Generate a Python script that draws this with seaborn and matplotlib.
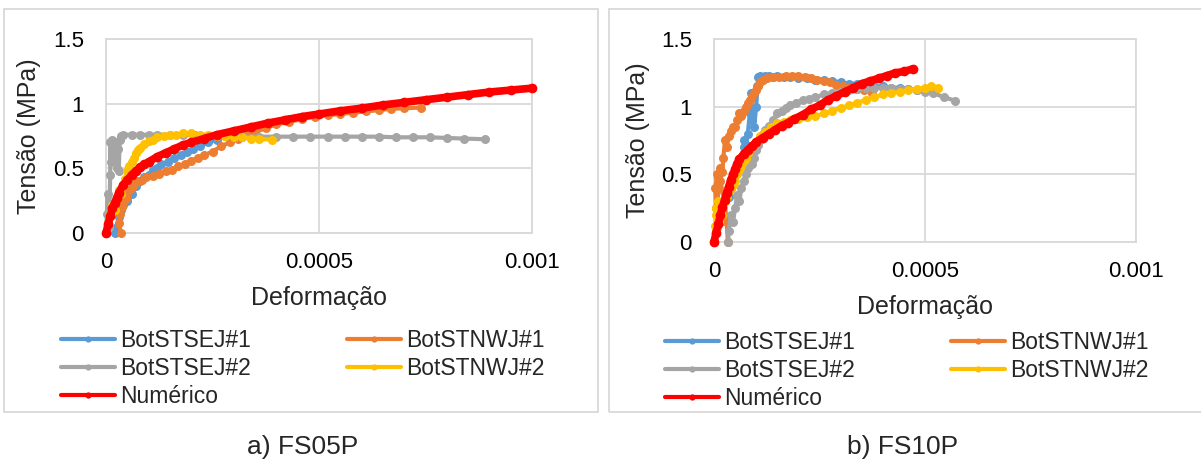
import numpy as np
import pandas as pd
import matplotlib
matplotlib.use("Agg")
import matplotlib.pyplot as plt
from matplotlib.lines import Line2D
from matplotlib.patches import Rectangle
import seaborn as sns

# ---- data (strain in micro-strain, stress in MPa) ----
# a) FS05P
a_sej1_x = [20, 25, 30, 35, 40, 45, 50, 55, 60, 70, 80, 90, 100, 110, 120, 130, 145, 160, 175, 190, 205, 220, 240,
            260, 280, 300, 325, 350, 375, 400, 430, 460, 490, 520, 550]
a_sej1_y = [0, 0.05, 0.12, 0.18, 0.22, 0.27, 0.25, 0.31, 0.3, 0.36, 0.4, 0.43, 0.45, 0.49, 0.5, 0.53, 0.55, 0.58,
            0.6, 0.63, 0.65, 0.67, 0.7, 0.72, 0.75, 0.77, 0.79, 0.81, 0.84, 0.86, 0.88, 0.9, 0.91, 0.92, 0.93]
a_nwj1_x = [35, 30, 32, 38, 40, 45, 50, 55, 60, 65, 75, 85, 95, 110, 125, 140, 155, 170, 185, 200, 215, 230, 250,
            270, 290, 310, 330, 350, 375, 400, 430, 460, 490, 520, 550, 580, 610, 640, 670, 700, 740]
a_nwj1_y = [0, 0.08, 0.15, 0.2, 0.24, 0.3, 0.27, 0.33, 0.35, 0.38, 0.4, 0.41, 0.43, 0.44, 0.46, 0.48, 0.49, 0.52,
            0.53, 0.56, 0.58, 0.6, 0.63, 0.67, 0.7, 0.73, 0.76, 0.78, 0.81, 0.84, 0.86, 0.88, 0.9, 0.91, 0.92, 0.93,
            0.94, 0.95, 0.96, 0.965, 0.97]
a_sej2_x = [0, 2, 4, 6, 8, 10, 10, 12, 14, 16, 20, 25, 28, 30, 32, 35, 40, 60, 80, 100, 120, 150, 180, 210, 240,
            280, 320, 360, 400, 440, 480, 520, 560, 600, 640, 680, 720, 760, 800, 840, 889]
a_sej2_y = [0, 0.15, 0.3, 0.05, 0.2, 0.45, 0.7, 0.55, 0.72, 0.6, 0.7, 0.5, 0.65, 0.48, 0.72, 0.75, 0.76, 0.76,
            0.76, 0.76, 0.76, 0.76, 0.76, 0.755, 0.75, 0.75, 0.745, 0.745, 0.745, 0.745, 0.745, 0.745, 0.745,
            0.745, 0.745, 0.74, 0.74, 0.74, 0.735, 0.73, 0.725]
a_nwj2_x = [0, 5, 10, 15, 20, 25, 30, 35, 40, 45, 50, 55, 60, 65, 70, 75, 80, 90, 100, 110, 120, 135, 150, 165,
            180, 200, 220, 240, 260, 280, 300, 320, 340, 360, 390]
a_nwj2_y = [0, 0.08, 0.15, 0.22, 0.18, 0.27, 0.33, 0.3, 0.36, 0.42, 0.48, 0.52, 0.55, 0.58, 0.62, 0.64, 0.66,
            0.69, 0.71, 0.72, 0.74, 0.75, 0.76, 0.76, 0.77, 0.77, 0.76, 0.76, 0.75, 0.75, 0.74, 0.74, 0.73, 0.73,
            0.72]
a_num_x = [0, 5, 10, 15, 20, 25, 30, 40, 50, 60, 70, 80, 90, 100, 120, 140, 160, 180, 200, 230, 260, 300, 340,
           380, 420, 460, 500, 550, 600, 650, 700, 750, 800, 850, 900, 950, 1000]
a_num_y = [0, 0.07, 0.13, 0.19, 0.23, 0.27, 0.31, 0.37, 0.41, 0.45, 0.48, 0.51, 0.53, 0.55, 0.59, 0.62, 0.65,
           0.68, 0.7, 0.73, 0.76, 0.79, 0.82, 0.85, 0.875, 0.9, 0.92, 0.945, 0.965, 0.99, 1.01, 1.03, 1.05, 1.07,
           1.09, 1.105, 1.12]

# b) FS10P
b_sej1_x = [0, 5, 10, 15, 20, 25, 30, 35, 40, 45, 50, 55, 60, 65, 70, 72, 75, 80, 85, 88, 90, 95, 100, 103, 105,
            110, 120, 130, 140, 150, 165, 180, 200, 220, 240, 260, 280, 300, 320, 340, 360, 380, 400, 420, 440,
            460, 480]
b_sej1_y = [0, 0.1, 0.2, 0.15, 0.25, 0.3, 0.35, 0.33, 0.4, 0.45, 0.5, 0.55, 0.6, 0.58, 0.7, 0.75, 0.72, 0.8, 0.95,
            1.1, 0.9, 0.85, 1.0, 1.15, 1.22, 1.23, 1.23, 1.23, 1.22, 1.23, 1.22, 1.22, 1.21, 1.21, 1.2, 1.2, 1.19,
            1.18, 1.17, 1.17, 1.16, 1.15, 1.15, 1.14, 1.14, 1.13, 1.12]
b_nwj1_x = [33, 30, 25, 15, 5, 3, 8, 10, 15, 20, 22, 26, 30, 35, 40, 45, 50, 55, 60, 65, 70, 75, 80, 85, 90, 95,
            100, 105, 110, 115, 125, 140, 155, 170, 185, 200, 215, 230, 245, 260, 275, 290, 305, 320, 340, 355, 374]
b_nwj1_y = [0, 0.15, 0.3, 0.45, 0.25, 0.4, 0.5, 0.48, 0.55, 0.52, 0.62, 0.75, 0.7, 0.78, 0.82, 0.85, 0.85, 0.9,
            0.95, 0.93, 0.97, 1.0, 1.03, 1.05, 1.08, 1.1, 1.12, 1.15, 1.18, 1.2, 1.21, 1.22, 1.22, 1.23, 1.23, 1.23,
            1.22, 1.21, 1.2, 1.19, 1.18, 1.16, 1.15, 1.14, 1.13, 1.12, 1.1]
b_sej2_x = [33, 35, 40, 45, 50, 55, 60, 65, 70, 75, 80, 85, 90, 95, 100, 105, 110, 115, 120, 130, 140, 150, 160,
            170, 180, 195, 210, 225, 240, 260, 280, 300, 320, 340, 360, 380, 400, 420, 440, 460, 480, 500, 520,
            545, 571]
b_sej2_y = [0, 0.08, 0.2, 0.15, 0.25, 0.35, 0.3, 0.4, 0.45, 0.5, 0.55, 0.6, 0.58, 0.62, 0.68, 0.72, 0.75, 0.8,
            0.83, 0.86, 0.9, 0.95, 0.97, 0.99, 1.01, 1.03, 1.05, 1.06, 1.07, 1.09, 1.1, 1.11, 1.12, 1.13, 1.14,
            1.14, 1.14, 1.14, 1.13, 1.13, 1.12, 1.11, 1.1, 1.07, 1.045]
b_nwj2_x = [0, 3, 5, 8, 10, 5, 12, 15, 20, 25, 30, 35, 40, 45, 50, 55, 60, 65, 70, 75, 80, 90, 100, 110, 120, 135,
            150, 165, 180, 200, 220, 240, 260, 280, 300, 320, 340, 360, 380, 400, 420, 440, 460, 480, 500, 515, 530]
b_nwj2_y = [0, 0.12, 0.25, 0.1, 0.3, 0.2, 0.15, 0.28, 0.2, 0.3, 0.33, 0.38, 0.4, 0.42, 0.45, 0.5, 0.53, 0.56,
            0.6, 0.62, 0.66, 0.7, 0.74, 0.78, 0.81, 0.85, 0.88, 0.89, 0.9, 0.91, 0.92, 0.93, 0.95, 0.97, 0.99, 1.01,
            1.03, 1.05, 1.07, 1.09, 1.1, 1.11, 1.12, 1.13, 1.14, 1.15, 1.14]
b_num_x = [0, 5, 10, 15, 20, 25, 30, 35, 40, 45, 50, 55, 60, 70, 80, 90, 100, 115, 130, 145, 160, 175, 190, 210,
           230, 250, 270, 290, 310, 330, 350, 370, 390, 410, 430, 450, 472]
b_num_y = [0, 0.07, 0.13, 0.2, 0.26, 0.31, 0.36, 0.41, 0.46, 0.5, 0.54, 0.58, 0.61, 0.65, 0.68, 0.71, 0.74, 0.77,
           0.8, 0.83, 0.86, 0.88, 0.91, 0.94, 0.98, 1.01, 1.05, 1.08, 1.11, 1.14, 1.17, 1.19, 1.21, 1.23, 1.25,
           1.26, 1.28]

names = ["BotSTSEJ#1", "BotSTNWJ#1", "BotSTSEJ#2", "BotSTNWJ#2", "Numérico"]
colors = ["#5B9BD5", "#ED7D31", "#A5A5A5", "#FFC000", "#FF0000"]

panels = [
    {"series": [(a_sej1_x, a_sej1_y), (a_nwj1_x, a_nwj1_y), (a_sej2_x, a_sej2_y), (a_nwj2_x, a_nwj2_y),
                (a_num_x, a_num_y)],
     "caption": "a) FS05P"},
    {"series": [(b_sej1_x, b_sej1_y), (b_nwj1_x, b_nwj1_y), (b_sej2_x, b_sej2_y), (b_nwj2_x, b_nwj2_y),
                (b_num_x, b_num_y)],
     "caption": "b) FS10P"},
]

sns.set_style("white")
plt.rcParams['font.family'] = ['Liberation Sans', 'DejaVu Sans']

W, H = 1201, 459
fig = plt.figure(figsize=(W / 100, H / 100), dpi=100)

# pixel layout (left, top, right, bottom) of plot areas
ax_px = [(106, 39, 532, 233), (714, 39, 1136, 242)]
box_px = [(4, 9, 598, 412), (609, 9, 1210, 412)]
leg_px = [(61, 329), (665, 331)]
cap_px = [(303, 447), (903, 447)]
xlab_y = [-0.335, -0.32]

grid_c = "#D9D9D9"

for i, p in enumerate(panels):
    l, t, r, b = ax_px[i]
    ax = fig.add_axes([l / W, 1 - b / H, (r - l) / W, (b - t) / H])

    for k, (xs, ys) in enumerate(p["series"]):
        df = pd.DataFrame({"x": np.array(xs) * 1e-6, "y": ys})
        red = k == 4
        sns.lineplot(data=df, x="x", y="y", sort=False, estimator=None, ax=ax, color=colors[k],
                     linewidth=5.5 if red else 3, marker="o", markersize=7 if red else 6.5,
                     markeredgewidth=0, legend=False, clip_on=False, zorder=3 + k)

    ax.set_xlim(0, 0.001)
    ax.set_ylim(0, 1.5)
    ax.set_xticks([0, 0.0005, 0.001])
    ax.set_xticklabels(["0", "0.0005", "0.001"])
    ax.set_yticks([0, 0.5, 1, 1.5])
    ax.set_yticklabels(["0", "0.5", "1", "1.5"])
    ax.tick_params(axis="x", length=0, pad=13.5, labelsize=16, labelcolor="#000000")
    ax.tick_params(axis="y", length=0, pad=16, labelsize=16, labelcolor="#000000")
    ax.grid(True, color=grid_c, linewidth=1.3)
    ax.set_axisbelow(True)
    for s in ax.spines.values():
        s.set_color(grid_c)
        s.set_linewidth(1.3)

    ax.set_xlabel("Deformação", fontsize=18, va="center")
    ax.xaxis.set_label_coords(0.5, xlab_y[i])
    ax.set_ylabel("Tensão (MPa)", fontsize=18, va="center")
    ax.yaxis.set_label_coords(-0.181, 0.5)

    # legend
    handles = [Line2D([0], [0], color=colors[k], lw=3, marker="o", markersize=4.5, markeredgewidth=0)
               for k in range(5)]
    order = [0, 2, 4, 1, 3]
    lx, ly = leg_px[i]
    fig.legend([handles[k] for k in order], [names[k] for k in order], loc="upper left",
               bbox_to_anchor=(lx / W, 1 - ly / H), ncol=2, frameon=False, fontsize=16.5,
               handlelength=2.35, handletextpad=0.22, columnspacing=4.2, labelspacing=0.22,
               borderpad=0, borderaxespad=0, numpoints=1)

    bl, bt, br, bb = box_px[i]
    fig.add_artist(Rectangle((bl / W, 1 - bb / H), (br - bl) / W, (bb - bt) / H, transform=fig.transFigure,
                             fill=False, edgecolor=grid_c, linewidth=1.3))

    cx, cy = cap_px[i]
    fig.text(cx / W, 1 - cy / H, p["caption"], fontsize=19, ha="center", va="center")

fig.savefig("out.png", dpi=100)
